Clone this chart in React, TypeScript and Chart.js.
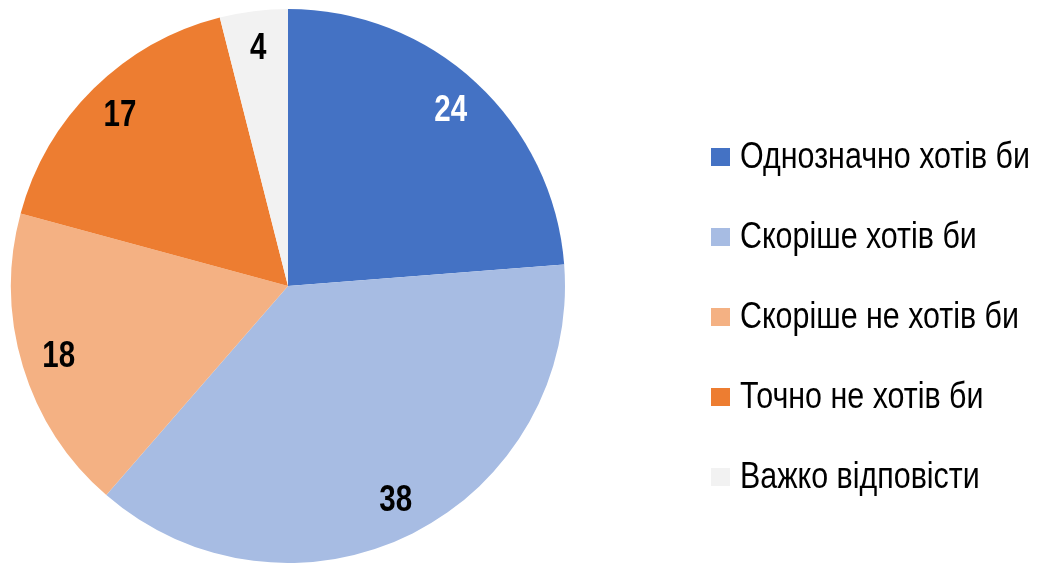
import React, { useEffect, useRef } from "react";
import { Chart, registerables } from "chart.js";

Chart.register(...registerables);

const categories = [
  "Однозначно хотів би",
  "Скоріше хотів би",
  "Скоріше не хотів би",
  "Точно не хотів би",
  "Важко відповісти",
];
const values = [24, 38, 18, 17, 4];
const colors = ["#4472C4", "#A7BCE3", "#F4B183", "#ED7D31", "#F2F2F2"];
const labelColors = ["#FFFFFF", "#000000", "#000000", "#000000", "#000000"];

const FONT = '"Liberation Sans", Arial, sans-serif';
const NARROW = 0.82;

function narrowText(ctx: any, text: string, x: number, y: number, sx: number) {
  ctx.save();
  ctx.translate(x, y);
  ctx.scale(sx, 1);
  ctx.fillText(text, 0, 0);
  ctx.restore();
}

const dataLabelPlugin = {
  id: "dataLabels",
  afterDatasetsDraw(chart: any) {
    const ctx = chart.ctx;
    const meta = chart.getDatasetMeta(0);
    ctx.save();
    ctx.font = `bold 36px ${FONT}`;
    ctx.textAlign = "center";
    ctx.textBaseline = "middle";
    meta.data.forEach((arc: any, i: number) => {
      const p = arc.getProps(["x", "y", "startAngle", "endAngle", "outerRadius"], true);
      const mid = (p.startAngle + p.endAngle) / 2;
      const r = p.outerRadius * 0.865;
      ctx.fillStyle = labelColors[i];
      narrowText(ctx, String(values[i]), p.x + Math.cos(mid) * r, p.y + Math.sin(mid) * r + 1, NARROW);
    });
    ctx.restore();
  },
};

const legendPlugin = {
  id: "customLegend",
  afterDraw(chart: any) {
    const ctx = chart.ctx;
    ctx.save();
    ctx.font = `36px ${FONT}`;
    ctx.textAlign = "left";
    ctx.textBaseline = "middle";
    const w = ctx.measureText(categories[0]).width;
    const sx = 290 / w;
    categories.forEach((c, i) => {
      const y = 157 + i * 80;
      ctx.fillStyle = colors[i];
      ctx.fillRect(711, y - 9, 19, 18);
      ctx.fillStyle = "#000000";
      narrowText(ctx, c, 740, y + 1, sx);
    });
    ctx.restore();
  },
};

export default function App() {
  const ref = useRef<HTMLCanvasElement>(null);
  useEffect(() => {
    if (!ref.current) return;
    const chart = new Chart(ref.current, {
      type: "pie",
      data: {
        labels: categories,
        datasets: [
          {
            data: values,
            backgroundColor: colors,
            borderWidth: 0,
          },
        ],
      },
      options: {
        animation: false,
        responsive: false,
        maintainAspectRatio: false,
        layout: { padding: { top: 9, bottom: 0, left: 11, right: 473 } },
        plugins: {
          legend: { display: false },
          tooltip: { enabled: false },
        },
      },
      plugins: [dataLabelPlugin, legendPlugin],
    });
    return () => chart.destroy();
  }, []);
  return (
    <div style={{ position: "fixed", left: 0, top: 0, width: 1038, height: 563, background: "#fff" }}>
      <canvas ref={ref} width={1038} height={563} style={{ width: 1038, height: 563, display: "block" }} />
    </div>
  );
}
